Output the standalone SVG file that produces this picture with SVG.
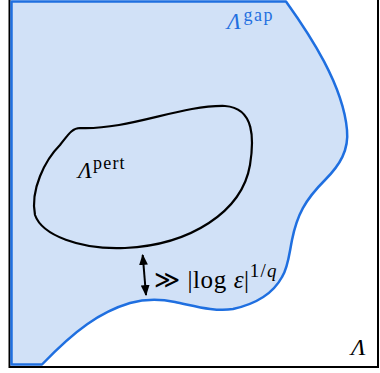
<svg xmlns="http://www.w3.org/2000/svg" width="380" height="373" viewBox="0 0 380 373">
<style>
.t{font-family:"Liberation Serif","DejaVu Serif",serif;fill:#000}
.i{font-style:italic}
.b{fill:#1f6fe0}
</style>
<defs>
<marker id="ah" viewBox="0 0 10 8" refX="9" refY="4" markerWidth="11" markerHeight="9" orient="auto-start-reverse" markerUnits="userSpaceOnUse">
<path d="M0,0 L10,4 L0,8 Z" fill="#000"/>
</marker>
</defs>
<rect x="0" y="0" width="380" height="373" fill="#fff"/>
<g id="domain">
<rect x="9.5" y="-1" width="368.5" height="368" fill="none" stroke="#000" stroke-width="2"/>
<text class="t i" x="351" y="355" font-size="24">Λ</text>
</g>
<g id="gap">
<path d="M11.5,1.5 L286,1.5 C310,35 343,85 347,130 C349,150 340,165 325,180 C305,200 297,215 292,240 C289,255 288,268 282,277 C275,290 260,303 233,309 C215,312 195,306 175,302 C160,299 145,299 130,303 C100,312 75,330 42,364.5 L11.5,364.5 Z" fill="#d1e1f7" stroke="#1f6fe0" stroke-width="2.5" stroke-linejoin="round"/>
<text class="t b" x="227" y="28.5" font-size="23" font-style="italic">Λ</text>
<text class="t b" x="243.5" y="21" font-size="18" letter-spacing="1.5">gap</text>
</g>
<g id="pert">
<path d="M80,128 C130,130 180,105 225,106 C255,108 254,140 250,165 C242,212 190,245 125,248 C80,250 42,235 35,215 C30,190 45,160 60,145 C68,135 72,128 80,128 Z" fill="none" stroke="#000" stroke-width="2.2"/>
<text class="t i" x="78" y="178" font-size="23">Λ</text>
<text class="t" x="93" y="169" font-size="18" letter-spacing="1.2">pert</text>
</g>
<g id="connectors">
<line x1="142.7" y1="255" x2="146" y2="295" stroke="#000" stroke-width="2" marker-start="url(#ah)" marker-end="url(#ah)"/>
</g>
<g id="label">
<text class="t" x="154" y="288" font-size="25" letter-spacing="0.6">≫ |log <tspan font-style="italic">ε</tspan>|<tspan font-size="19" dy="-11" letter-spacing="1.2">1/<tspan font-style="italic">q</tspan></tspan></text>
</g>
</svg>
